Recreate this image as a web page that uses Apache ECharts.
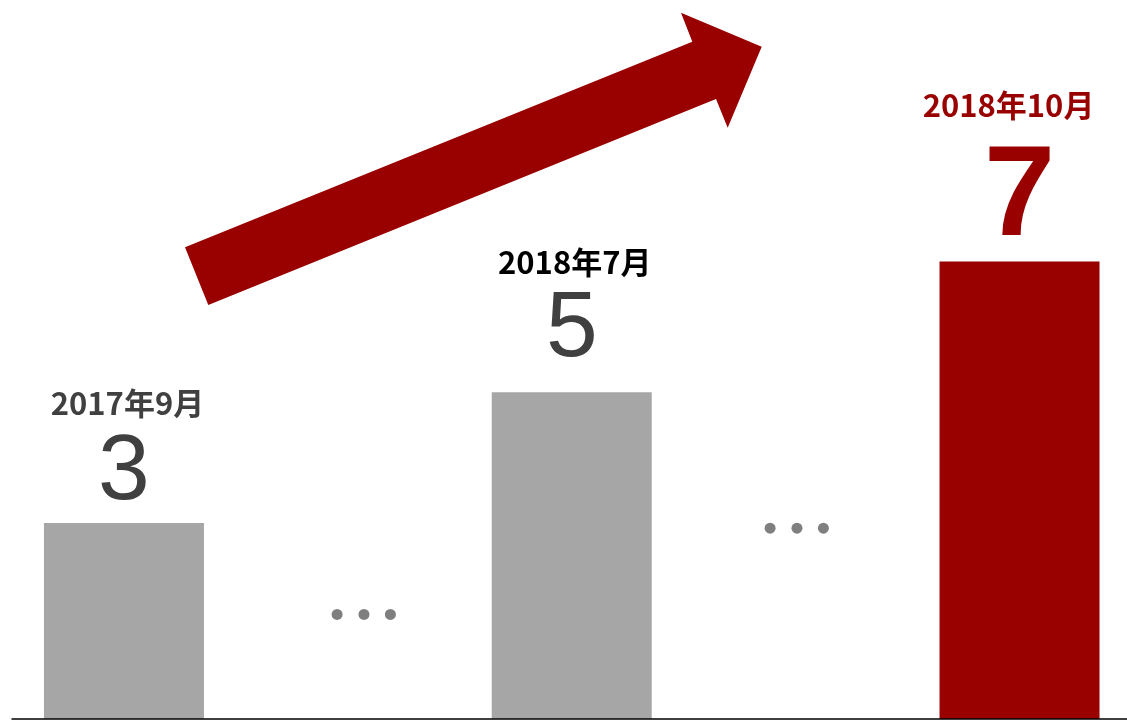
<!DOCTYPE html>
<html>
<head>
<meta charset="utf-8">
<script src="https://cdn.jsdelivr.net/npm/echarts@6/dist/echarts.min.js"></script>
<style>
  html, body { margin: 0; padding: 0; background: #fff; }
  #chart { width: 1127px; height: 721px; }
</style>
</head>
<body>
<div id="chart"></div>
<script>
// Milestones: position on the timeline, period label and count
const periods = ['2017年9月', '2018年7月', '2018年10月'];
const positions = [0, 1, 2];
const counts = [3, 5, 7];

// Ellipsis dots between milestones (x on the timeline, height)
const dotsX = [0.476, 0.536, 0.595, 1.443, 1.503, 1.562];
const dotsY = [1.6, 1.6, 1.6, 2.92, 2.92, 2.92];

const GRAY = '#a6a6a6';
const RED = '#990000';
const DARK = '#404040';

// per-milestone label styling
const barStyles = [
  { bar: GRAY, date: DARK, num: DARK, numSize: 93, numWeight: 'normal', dist: 3, dateLH: 47, datePad: [0, 0, 0, 7] },
  { bar: GRAY, date: '#000000', num: DARK, numSize: 93, numWeight: 'normal', dist: 15, dateLH: 44, datePad: [0, 0, 0, 6] },
  { bar: RED, date: RED, num: RED, numSize: 128, numWeight: 'bold', dist: -2, dateLH: 60, datePad: [0, 22, 0, 0] }
];

const barData = positions.map((x, i) => {
  const s = barStyles[i];
  return {
    value: [x, counts[i]],
    itemStyle: { color: s.bar },
    label: {
      distance: s.dist,
      rich: {
        d: {
          fontFamily: 'Noto Sans CJK JP', fontWeight: 'bold', fontSize: 31,
          lineHeight: s.dateLH, color: s.date, padding: s.datePad
        },
        n: {
          fontFamily: 'Liberation Sans', fontWeight: s.numWeight, fontSize: s.numSize,
          lineHeight: s.numSize, color: s.num
        }
      }
    }
  };
});

const dotData = dotsX.map((x, i) => [x, dotsY[i]]);

const chart = echarts.init(document.getElementById('chart'), null, { renderer: 'canvas' });

chart.setOption({
  animation: false,
  backgroundColor: '#ffffff',
  grid: { left: 12, top: 0, right: 0, height: 719, containLabel: false },
  xAxis: {
    type: 'value', min: -0.25, max: 2.24, z: 5,
    axisLine: { show: true, lineStyle: { color: '#000000', width: 1.5 } },
    axisTick: { show: false }, axisLabel: { show: false }, splitLine: { show: false }
  },
  yAxis: {
    type: 'value', min: 0, max: 11,
    axisLine: { show: false }, axisTick: { show: false },
    axisLabel: { show: false }, splitLine: { show: false }
  },
  series: [
    {
      type: 'bar',
      barWidth: 160,
      data: barData,
      label: {
        show: true,
        position: 'top',
        formatter: p => '{d|' + periods[p.dataIndex] + '}\n{n|' + counts[p.dataIndex] + '}'
      },
      z: 2
    },
    {
      type: 'scatter',
      symbol: 'circle',
      symbolSize: 11,
      itemStyle: { color: '#7f7f7f', opacity: 1 },
      data: dotData,
      z: 3
    }
  ],
  graphic: [
    {
      // rising trend arrow
      type: 'polygon',
      z: 10,
      shape: {
        points: [
          [185, 247.3], [692.3, 41.7], [681, 12.7], [761.7, 46.7],
          [727.7, 127.7], [716, 99], [208.3, 305]
        ]
      },
      style: { fill: RED }
    }
  ]
});
</script>
</body>
</html>
